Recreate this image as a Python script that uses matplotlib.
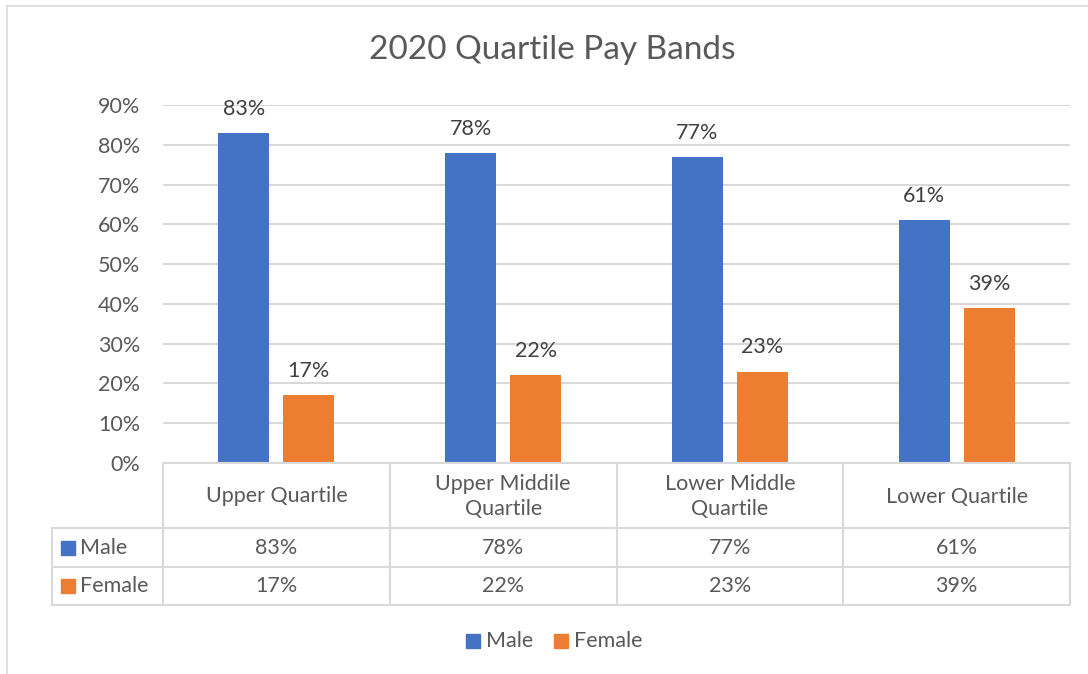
import numpy as np
import matplotlib
matplotlib.use("Agg")
import matplotlib.pyplot as plt
from matplotlib.lines import Line2D
from matplotlib.patches import Rectangle

# ---- data ----
categories = ["Upper Quartile", "Upper Middile\nQuartile", "Lower Middle\nQuartile", "Lower Quartile"]
series = ["Male", "Female"]
male = [0.83, 0.78, 0.77, 0.61]
female = [0.17, 0.22, 0.23, 0.39]
yticks = [0, 0.1, 0.2, 0.3, 0.4, 0.5, 0.6, 0.7, 0.8, 0.9]

blue = "#4472C4"
orange = "#ED7D31"
grid_c = "#D9D9D9"
txt = "#595959"
lbl = "#404040"
fs = 15.5

plt.rcParams["font.family"] = ["Lato", "DejaVu Sans"]

W, H = 1088, 674
fig = plt.figure(figsize=(W / 100, H / 100), dpi=100)
fig.patch.set_facecolor("white")


def fx(x):
    return x / W


def fy(y):
    return 1 - y / H


def hline(x0, x1, y, color=grid_c, lw=1.5):
    fig.add_artist(Line2D([fx(x0), fx(x1)], [fy(y), fy(y)], color=color, lw=lw))


def vline(x, y0, y1, color=grid_c, lw=1.5):
    fig.add_artist(Line2D([fx(x), fx(x)], [fy(y0), fy(y1)], color=color, lw=lw))


# chart frame (top and left edges visible)
hline(7, W, 6, lw=1.2)
vline(7, 6, H, lw=1.2)

# plot area in pixels
px0, px1 = 163, 1070
py_top, py_bot = 105, 463
ax = fig.add_axes([fx(px0), fy(py_bot), (px1 - px0) / W, (py_bot - py_top) / H])
ax.set_xlim(0, 4)
ax.set_ylim(0, 0.9)

x = np.arange(len(categories)) + 0.5
bw = 0.225
gap = 0.062
off = (bw + gap) / 2
ax.bar(x - off, male, bw, color=blue, zorder=3)
ax.bar(x + off, female, bw, color=orange, zorder=3)

for xi, m, f in zip(x, male, female):
    ax.annotate(f"{m:.0%}", (xi - off, m), xytext=(0, 13), textcoords="offset points",
                ha="center", va="baseline", fontsize=fs, color=lbl)
    ax.annotate(f"{f:.0%}", (xi + off, f), xytext=(0, 13), textcoords="offset points",
                ha="center", va="baseline", fontsize=fs, color=lbl)

ax.set_yticks(yticks)
ax.set_yticklabels([f"{t:.0%}" for t in yticks], fontsize=fs, color=txt)
ax.set_xticks([])
ax.tick_params(axis="y", length=0, pad=16.5)
ax.grid(axis="y", color=grid_c, lw=1.5, zorder=0)
for s in ax.spines.values():
    s.set_visible(False)
ax.patch.set_alpha(0)

# ---- data table ----
col_edges = [px0 + i * (px1 - px0) / 4 for i in range(5)]
row_header_bot = 528
row_male_bot = 567
row_fem_bot = 605
left_col = 52

hline(px0, px1, py_bot)
hline(left_col, px1, row_header_bot)
hline(left_col, px1, row_male_bot)
hline(left_col, px1, row_fem_bot)
vline(left_col, row_header_bot, row_fem_bot)
for ce in col_edges:
    vline(ce, py_bot, row_fem_bot)

for i, cat in enumerate(categories):
    cx = (col_edges[i] + col_edges[i + 1]) / 2
    fig.text(fx(cx), fy((py_bot + row_header_bot) / 2 + 1), cat, ha="center", va="center",
             fontsize=fs, color=txt, linespacing=1.35)
    fig.text(fx(cx), fy((row_header_bot + row_male_bot) / 2), f"{male[i]:.0%}",
             ha="center", va="center", fontsize=fs, color=txt)
    fig.text(fx(cx), fy((row_male_bot + row_fem_bot) / 2), f"{female[i]:.0%}",
             ha="center", va="center", fontsize=fs, color=txt)

for name, col, y0, y1 in [("Male", blue, row_header_bot, row_male_bot),
                          ("Female", orange, row_male_bot, row_fem_bot)]:
    yc = (y0 + y1) / 2
    fig.add_artist(Rectangle((fx(61), fy(yc + 7)), 14 / W, 14 / H, color=col,
                             transform=fig.transFigure))
    fig.text(fx(80), fy(yc), name, ha="left", va="center", fontsize=fs, color=txt)

# ---- legend ----
leg_y = 641
for name, col, sx in [("Male", blue, 466), ("Female", orange, 554)]:
    fig.add_artist(Rectangle((fx(sx), fy(leg_y + 7)), 14 / W, 14 / H, color=col,
                             transform=fig.transFigure))
    fig.text(fx(sx + 20), fy(leg_y), name, ha="left", va="center", fontsize=fs, color=txt)

# ---- title ----
fig.text(fx(552), fy(50), "2020 Quartile Pay Bands", ha="center", va="center",
         fontsize=24, color=txt)

fig.savefig("out.png", dpi=100)
